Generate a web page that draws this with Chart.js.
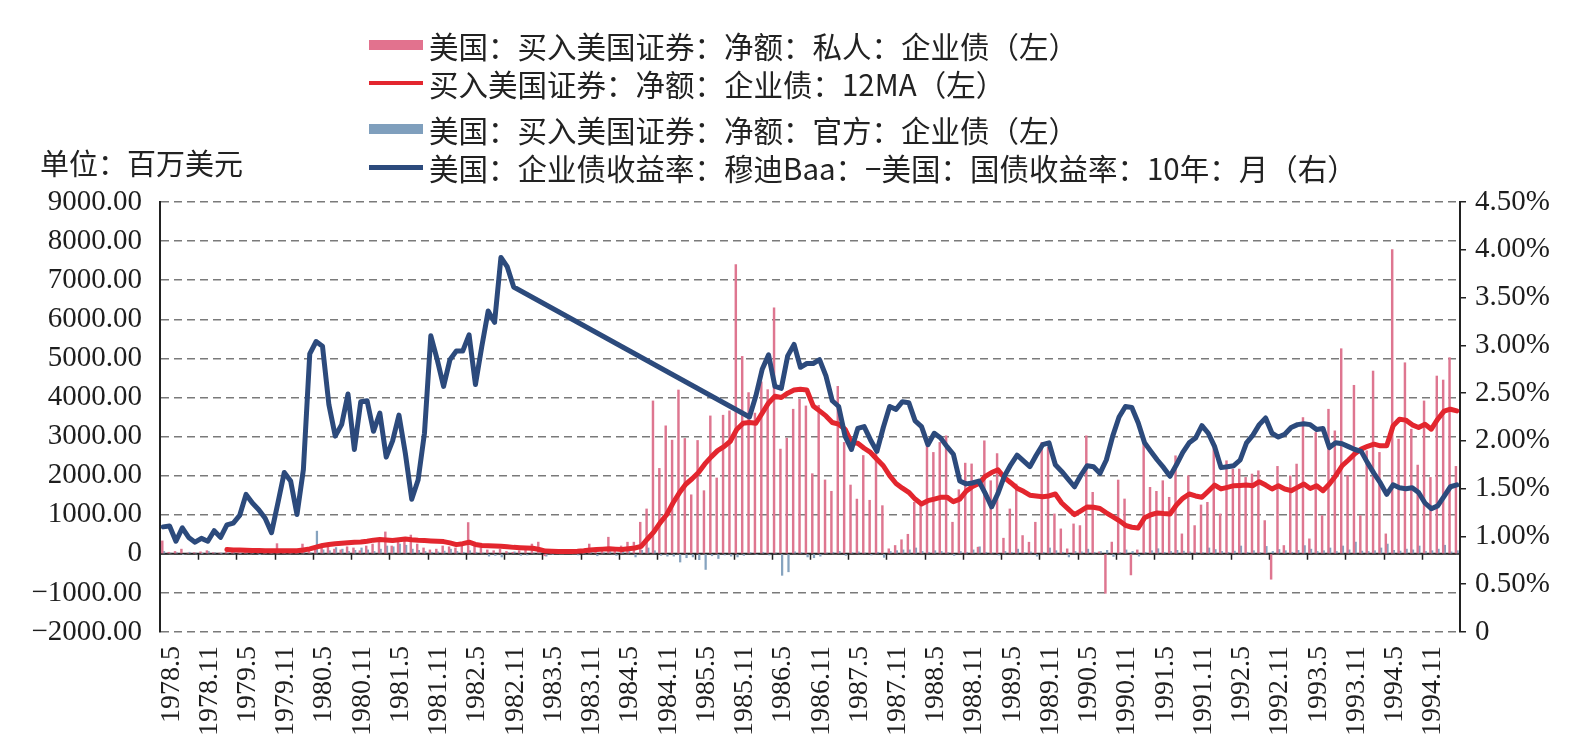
<!DOCTYPE html>
<html>
<head>
<meta charset="utf-8">
<script src="https://cdn.jsdelivr.net/npm/chart.js@4.4.1/dist/chart.umd.min.js"></script>
<style>
  html, body { margin: 0; padding: 0; background: #fff; }
  #wrap { position: relative; width: 1586px; height: 755px; overflow: hidden; }
  #c { position: absolute; left: 0; top: 0; }
  .lg { position: absolute; left: 369px; height: 36px; line-height: 36px; white-space: nowrap;
        font-family: "Noto Sans CJK SC", "Noto Sans", sans-serif; font-size: 29.5px; color: #222; }
  .lg .sw { position: absolute; left: 0; width: 54px; }
  .lg .tx { position: absolute; left: 60px; top: 0; }
  #unit { position: absolute; left: 40px; top: 144px; height: 36px; line-height: 36px;
          font-family: "Noto Sans CJK SC", sans-serif; font-size: 29px; color: #222; white-space: nowrap; }
</style>
</head>
<body>
<div id="wrap">
  <canvas id="c" width="1586" height="755"></canvas>
  <div id="unit">单位：百万美元</div>
  <div class="lg" style="top:27px"><span class="sw" style="top:13px;height:10px;background:#e2728e"></span><span class="tx">美国：买入美国证券：净额：私人：企业债（左）</span></div>
  <div class="lg" style="top:65px"><span class="sw" style="top:16px;height:4px;background:#e3262e"></span><span class="tx">买入美国证券：净额：企业债：12MA（左）</span></div>
  <div class="lg" style="top:111px"><span class="sw" style="top:13px;height:10px;background:#7f9fbd"></span><span class="tx">美国：买入美国证券：净额：官方：企业债（左）</span></div>
  <div class="lg" style="top:149px"><span class="sw" style="top:16px;height:5px;background:#2c4a7c"></span><span class="tx">美国：企业债收益率：穆迪Baa：−美国：国债收益率：10年：月（右）</span></div>
</div>
<script>
// ---- categories: monthly, 1978.5 .. 1995.4 ----
const startYear = 1978, startMonth = 5, monthCount = 204;
const months = [];
for (let k = 0; k < monthCount; k++) {
  const m = startMonth - 1 + k;
  months.push((startYear + Math.floor(m / 12)) + '.' + (m % 12 + 1));
}
const tickEvery = 6;

// ---- left axis: 百万美元 ----
const privateCorp = [
  330,40,60,120,20,30,50,80,30,20,40,60,
  30,80,40,50,30,70,260,40,60,50,250,120,
  150,150,200,120,100,180,150,80,200,250,300,560,
  200,300,350,480,250,150,100,120,200,180,150,250,
  800,200,150,100,80,120,60,40,80,120,250,300,
  -50,30,60,40,100,80,60,250,80,120,425,100,
  200,298,298,808,1148,3911,2186,3274,2908,4191,2951,1510,
  2900,1615,3528,1940,3546,3656,7398,5050,4124,3600,4400,4200,
  6293,2679,2960,3699,3954,3783,2050,3800,1890,1600,4285,2850,
  1760,1400,2515,1370,2680,1232,128,213,360,500,1318,1318,
  2763,2594,2850,3018,808,1640,2320,2300,170,2891,1870,2564,
  400,1148,1785,467,297,808,2849,2721,1020,638,127,765,
  722,3018,1573,50,-1010,300,1888,1403,-540,100,2806,1701,
  1599,1870,1446,2508,510,1998,722,1250,1318,2763,1020,2381,
  2168,2168,1955,2041,2125,850,-650,2237,212,1998,2296,3486,
  383,3104,978,3699,3146,5247,1998,4311,978,2636,4676,2594,
  510,7780,2934,4888,3189,2270,3911,1955,4548,4446,5018,2237
];
const officialCorp = [
  60,20,30,-20,40,20,10,60,30,10,20,40,10,30,20,-10,40,60,30,50,100,40,80,30,
  580,100,80,160,120,60,90,150,100,60,120,200,180,250,220,120,90,60,40,50,70,120,60,40,
  80,40,20,-60,-40,-80,30,50,-40,-30,20,30,-60,-20,10,40,60,-30,20,40,-50,30,60,-40,
  120,60,-80,90,150,80,-40,-60,-60,-210,-100,-80,-150,-400,-50,-120,-30,-60,-80,-40,30,-20,40,-30,
  20,-550,-460,50,30,-80,-100,-60,20,40,60,-40,30,50,20,-30,40,-90,60,80,100,100,150,60,
  40,80,60,30,-40,60,40,100,180,40,20,-30,60,40,120,30,50,-60,40,150,80,40,-80,60,
  50,120,40,60,90,-70,30,100,60,-60,40,80,130,40,60,90,70,50,40,30,150,110,60,40,
  70,200,40,80,30,190,60,110,80,40,90,210,120,60,80,150,60,200,100,300,70,60,80,150,
  250,90,70,120,100,200,60,80,120,220,50,80
];
const ma12 = [
  null,null,null,null,null,null,null,null,null,null,110,100,
  95,90,85,85,80,78,76,76,76,80,100,127,
  170,212,240,260,271,285,297,300,320,350,364,355,
  339,360,381,360,345,339,330,320,313,280,235,260,
  297,240,212,205,200,195,180,165,155,148,144,110,
  70,65,62,60,60,65,80,100,110,120,127,120,
  110,130,150,190,380,560,800,1000,1300,1560,1780,1920,
  2080,2300,2480,2640,2740,2880,3180,3340,3360,3340,3600,3860,
  4030,4000,4110,4190,4209,4191,3783,3656,3528,3360,3316,3189,
  2849,2830,2700,2594,2420,2253,2000,1800,1680,1573,1400,1276,
  1360,1400,1446,1450,1334,1400,1600,1720,1800,1980,2080,2150,
  1950,1820,1680,1600,1500,1480,1460,1480,1530,1300,1150,1000,
  1100,1200,1190,1160,1050,950,850,730,680,660,920,1000,
  1046,1030,1020,1250,1420,1530,1480,1446,1600,1760,1660,1700,
  1743,1750,1760,1743,1845,1760,1658,1743,1658,1615,1700,1786,
  1670,1743,1615,1786,1998,2253,2400,2560,2679,2750,2806,2763,
  2763,3273,3444,3420,3300,3232,3316,3189,3444,3650,3699,3656
];
// ---- right axis: % ----
const spread = [
  1.10,1.11,0.95,1.09,0.99,0.94,0.98,0.95,1.06,0.99,1.12,1.14,
  1.22,1.44,1.35,1.28,1.19,1.04,1.35,1.67,1.58,1.23,1.70,2.91,
  3.04,2.99,2.38,2.05,2.17,2.49,1.91,2.41,2.42,2.10,2.29,1.83,
  2.00,2.27,1.87,1.39,1.59,2.08,3.10,2.85,2.57,2.85,2.94,2.94,
  3.11,2.59,2.99,3.36,3.24,3.92,3.82,3.61,null,null,null,null,
  null,null,null,null,null,null,null,null,null,null,null,null,
  null,null,null,null,null,null,null,null,null,null,null,null,
  null,null,null,null,null,null,null,null,2.25,2.47,2.75,2.90,
  2.57,2.55,2.89,3.01,2.77,2.81,2.81,2.85,2.68,2.42,2.36,2.05,
  1.91,2.13,2.15,2.01,1.89,2.14,2.36,2.33,2.41,2.40,2.21,2.15,
  1.96,2.08,2.03,1.94,1.86,1.58,1.55,1.56,1.58,1.45,1.31,1.45,
  1.63,1.75,1.85,1.79,1.73,1.85,1.96,1.98,1.75,1.68,1.60,1.52,
  1.64,1.74,1.73,1.66,1.80,2.05,2.25,2.36,2.35,2.19,1.98,1.89,
  1.80,1.72,1.63,1.75,1.88,1.98,2.03,2.16,2.08,1.94,1.72,1.73,
  1.74,1.80,1.98,2.06,2.17,2.24,2.08,2.04,2.07,2.14,2.17,2.18,
  2.17,2.12,2.13,1.93,1.98,1.97,1.94,1.91,1.89,1.77,1.66,1.56,
  1.44,1.54,1.51,1.50,1.51,1.46,1.35,1.29,1.32,1.42,1.52,1.54
];
const leftTicks = { min: -2000, max: 9000, step: 1000 };
const rightTicks = { min: 0, max: 4.5, step: 0.5 };

const serif = "'Liberation Serif', 'Times New Roman', serif";

const zeroLine = {
  id: 'zeroLine',
  beforeDatasetsDraw(chart) {
    const { ctx, chartArea, scales } = chart;
    const x = scales.x, y = scales.y;
    const y0 = y.getPixelForValue(0);
    const half = (x.getPixelForValue(1) - x.getPixelForValue(0)) / 2;
    ctx.save();
    ctx.strokeStyle = '#222';
    ctx.lineWidth = 2;
    ctx.beginPath();
    ctx.moveTo(chartArea.left, y0);
    ctx.lineTo(chartArea.right, y0);
    ctx.stroke();
    ctx.lineWidth = 1.5;
    ctx.beginPath();
    for (let i = tickEvery; i < months.length; i += tickEvery) {
      const px = Math.round(x.getPixelForValue(i) - half) + 0.5;
      ctx.moveTo(px, y0);
      ctx.lineTo(px, y0 + 6);
    }
    ctx.stroke();
    ctx.restore();
  }
};

new Chart(document.getElementById('c'), {
  data: {
    labels: months,
    datasets: [
      { type: 'line', label: '美国：企业债收益率：穆迪Baa：−美国：国债收益率：10年：月（右）', data: spread,
        yAxisID: 'y1', borderColor: '#2c4a7c', borderWidth: 5, pointRadius: 0, tension: 0,
        spanGaps: true, borderJoinStyle: 'round', borderCapStyle: 'round', order: 0 },
      { type: 'line', label: '买入美国证券：净额：企业债：12MA（左）', data: ma12,
        yAxisID: 'y', borderColor: '#e3262e', borderWidth: 5, pointRadius: 0, tension: 0,
        borderJoinStyle: 'round', borderCapStyle: 'round', order: 1 },
      { type: 'bar', label: '美国：买入美国证券：净额：私人：企业债（左）', data: privateCorp,
        yAxisID: 'y', backgroundColor: '#de7690', barThickness: 1.8, order: 3 },
      { type: 'bar', label: '美国：买入美国证券：净额：官方：企业债（左）', data: officialCorp,
        yAxisID: 'y', backgroundColor: '#86a3bf', barThickness: 1.6, order: 4 }
    ]
  },
  options: {
    responsive: false,
    animation: false,
    devicePixelRatio: 1,
    layout: { padding: { top: 202, left: 0, right: 0, bottom: 0 } },
    plugins: { legend: { display: false }, tooltip: { enabled: false } },
    scales: {
      x: {
        type: 'category',
        offset: true,
        grid: { display: false, drawTicks: false },
        border: { display: false },
        ticks: {
          autoSkip: false, minRotation: 90, maxRotation: 90, padding: 14, labelOffset: 8,
          color: '#1e1e1e', font: { family: serif, size: 28 },
          callback: (v, i) => (i % tickEvery === 0 ? months[i] : '')
        },
        afterFit: s => { s.height = 123; }
      },
      y: {
        position: 'left',
        min: leftTicks.min, max: leftTicks.max,
        grid: { color: '#7a7a7a', lineWidth: 1.5, drawTicks: false },
        border: { display: true, color: '#222', width: 2, dash: [8, 5] },
        ticks: {
          stepSize: leftTicks.step, padding: 18, color: '#1e1e1e', font: { family: serif, size: 29 },
          callback: v => (v === 0 ? '0' : (v < 0 ? '−' : '') + Math.abs(v).toFixed(2))
        },
        afterFit: s => { s.width = 160; }
      },
      y1: {
        position: 'right',
        min: rightTicks.min, max: rightTicks.max,
        grid: { drawOnChartArea: false, drawTicks: true, tickLength: 6, color: '#222', lineWidth: 1.5 },
        border: { display: true, color: '#222', width: 2 },
        ticks: {
          stepSize: rightTicks.step, padding: 9, color: '#1e1e1e', font: { family: serif, size: 29 },
          callback: v => (v === 0 ? '0' : v.toFixed(2) + '%')
        },
        afterFit: s => { s.width = 126; }
      }
    }
  },
  plugins: [zeroLine]
});
</script>
</body>
</html>
